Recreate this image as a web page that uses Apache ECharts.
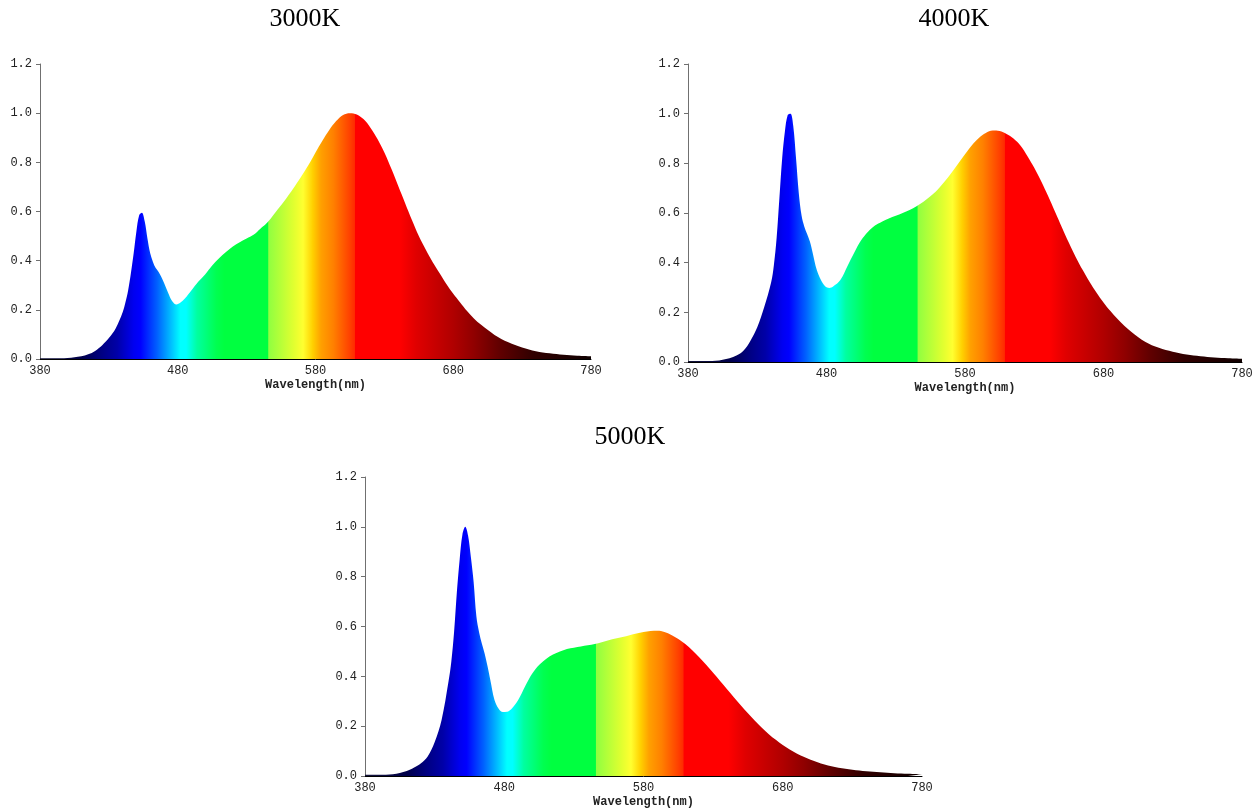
<!DOCTYPE html>
<html>
<head>
<meta charset="utf-8">
<script src="https://cdn.jsdelivr.net/npm/echarts@6/dist/echarts.min.js"></script>
<style>
  html, body { margin: 0; padding: 0; background: #fff; }
  #spectrum { width: 1260px; height: 809px; }
</style>
</head>
<body>
<div id="spectrum"></div>
<script>
// wavelength grid (nm) shared by the three spectra
var wavelengths = [380,390,400,410,415,420,425,430,435,440,
  442,444,446,448,450,452,454,456,458,460,462,464,466,468,470,
  473,476,479,482,485,
  490,495,500,505,510,515,520,525,530,535,540,545,550,555,560,565,570,575,580,585,
  590,595,600,605,610,615,620,625,630,635,640,645,650,655,660,665,670,675,680,685,
  690,695,700,710,720,730,740,750,760,770,780];

var spec3000 = [0.003,0.003,0.004,0.011,0.019,0.033,0.055,0.085,0.125,0.19,
  0.23,0.28,0.35,0.43,0.52,0.585,0.595,0.56,0.49,0.43,0.395,0.37,0.355,0.335,0.31,
  0.27,0.235,0.222,0.23,0.245,
  0.28,0.315,0.345,0.38,0.41,0.435,0.458,0.475,0.49,0.505,0.53,0.555,0.59,0.625,0.663,0.703,0.745,0.79,0.84,0.888,
  0.932,0.968,0.993,1.0,0.995,0.975,0.94,0.895,0.84,0.775,0.705,0.635,0.565,0.5,0.445,0.395,0.35,0.305,0.265,0.23,
  0.195,0.165,0.14,0.098,0.068,0.047,0.032,0.023,0.017,0.013,0.011];

var spec4000 = [0.004,0.004,0.005,0.015,0.026,0.045,0.085,0.14,0.22,0.32,
  0.39,0.5,0.66,0.82,0.93,0.995,1.0,0.95,0.82,0.68,0.59,0.545,0.515,0.485,0.44,
  0.37,0.33,0.305,0.298,0.305,
  0.33,0.385,0.44,0.49,0.525,0.55,0.565,0.578,0.589,0.6,0.612,0.627,0.645,0.667,0.693,0.725,0.76,0.798,0.837,0.873,
  0.902,0.922,0.932,0.93,0.918,0.9,0.872,0.83,0.782,0.728,0.668,0.605,0.542,0.48,0.422,0.37,0.322,0.279,0.24,0.205,
  0.174,0.146,0.122,0.082,0.057,0.041,0.03,0.023,0.018,0.015,0.013];

var spec5000 = [0.005,0.005,0.007,0.02,0.033,0.05,0.078,0.135,0.225,0.38,
  0.46,0.58,0.74,0.87,0.97,1.0,0.965,0.88,0.78,0.64,0.575,0.53,0.49,0.44,0.385,
  0.305,0.27,0.257,0.258,0.268,
  0.305,0.36,0.41,0.445,0.47,0.488,0.5,0.51,0.515,0.52,0.525,0.53,0.537,0.545,0.552,0.558,0.565,0.572,0.578,0.582,
  0.583,0.578,0.566,0.55,0.53,0.505,0.477,0.446,0.414,0.381,0.348,0.315,0.283,0.252,0.222,0.194,0.168,0.145,0.124,0.106,
  0.09,0.077,0.065,0.046,0.033,0.025,0.019,0.015,0.011,0.009,0.007];

var titles = ['3000K', '4000K', '5000K'];

// spectrum colours along the wavelength axis
var rainbow = [
  [380, '#141438'], [410, '#00004a'], [424, '#000080'], [436, '#0000a8'],
  [448, '#0000f0'], [453, '#0000ff'], [465, '#0060ff'], [477, '#00d0ff'],
  [482, '#00ffff'], [486, '#00ffff'], [494, '#00ffa0'], [508, '#00ff50'],
  [514, '#00ff40'], [545.5, '#00ff40'], [546, '#90ff40'], [564, '#e0ff30'],
  [571, '#ffff30'], [578, '#ffd000'], [584, '#ffa000'], [593, '#ff8000'],
  [605, '#ff4000'], [608.5, '#ff2a00'], [609, '#ff0000'], [641, '#ff0000'],
  [653, '#e00000'], [680, '#b00000'], [695, '#900000'], [714, '#600000'],
  [738, '#300000'], [780, '#100000']
];

function pairs(vals) {
  return wavelengths.map(function (w, i) { return [w, vals[i]]; });
}

function fill() {
  return new echarts.graphic.LinearGradient(0, 0, 1, 0, rainbow.map(function (r) {
    return { offset: (r[0] - 380) / 400, color: r[1] };
  }));
}

var mono = 'Liberation Mono';
var grids = [
  { left: 40, top: 64, width: 551, height: 295 },
  { left: 688, top: 64, width: 554, height: 298 },
  { left: 365, top: 477, width: 557, height: 299 }
];
var titlePos = [[305, 6], [954, 6], [630, 424]];
var allSpec = [spec3000, spec4000, spec5000];

var Chart = echarts.init(document.getElementById('spectrum'));
var options = {
  animation: false,
  title: titles.map(function (t, i) {
    return {
      text: t, left: titlePos[i][0], top: titlePos[i][1], textAlign: 'center', padding: 0,
      textStyle: { fontFamily: 'Liberation Serif', fontSize: 26, fontWeight: 'normal', color: '#000' }
    };
  }),
  grid: grids,
  xAxis: grids.map(function (g, i) {
    return {
      type: 'value', gridIndex: i, min: 380, max: 780, interval: 100,
      name: 'Wavelength(nm)', nameLocation: 'middle', nameGap: 20,
      nameTextStyle: { fontFamily: mono, fontSize: 12, fontWeight: 'bold', color: '#222' },
      axisLine: { lineStyle: { color: '#000', width: 1 } },
      axisTick: { show: false },
      axisLabel: { fontFamily: mono, fontSize: 12, color: '#222', margin: 6 },
      splitLine: { show: false }
    };
  }),
  yAxis: grids.map(function (g, i) {
    return {
      type: 'value', gridIndex: i, min: 0, max: 1.2, interval: 0.2,
      axisLine: { show: true, lineStyle: { color: '#707070', width: 1 } },
      axisTick: { show: true, length: 4, lineStyle: { color: '#707070' } },
      axisLabel: { fontFamily: mono, fontSize: 12, color: '#222', margin: 8,
        formatter: function (v) { return v.toFixed(1); } },
      splitLine: { show: false }
    };
  }),
  series: allSpec.map(function (s, i) {
    return {
      type: 'line', xAxisIndex: i, yAxisIndex: i,
      data: pairs(s),
      smooth: 0.35,
      showSymbol: false,
      lineStyle: { width: 0 },
      areaStyle: { color: fill(), opacity: 1 }
    };
  })
};
Chart.setOption(options);
</script>
</body>
</html>
